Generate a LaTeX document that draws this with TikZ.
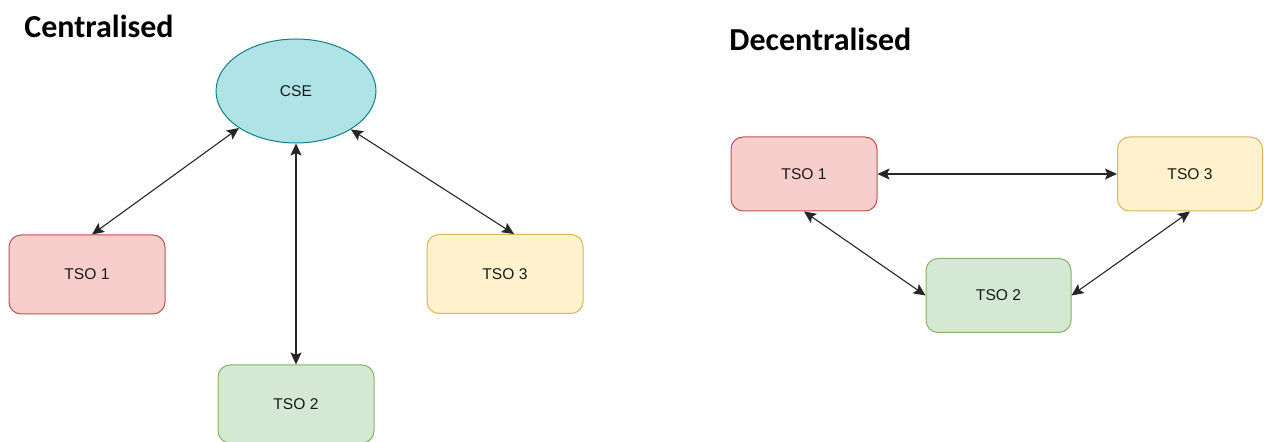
\documentclass[tikz,border=0pt]{standalone}
\usepackage{fontspec}
\setmainfont{Liberation Sans}
\newfontfamily\titlefont{Carlito}
\usetikzlibrary{shapes.geometric,arrows.meta,calc}
\definecolor{cseFill}{HTML}{B0E3E6}
\definecolor{cseLine}{HTML}{0E8088}
\definecolor{redFill}{HTML}{F8CECC}
\definecolor{redLine}{HTML}{B85450}
\definecolor{greenFill}{HTML}{D5E8D4}
\definecolor{greenLine}{HTML}{82B366}
\definecolor{yellowFill}{HTML}{FFF2CC}
\definecolor{yellowLine}{HTML}{D6B656}
\tikzset{
  box/.style={draw, rounded corners=6pt, line width=0.5pt, inner sep=0pt,
    font=\fontsize{7.8pt}{9pt}\selectfont, text=black!90},
  redbox/.style={box, fill=redFill, draw=redLine},
  greenbox/.style={box, fill=greenFill, draw=greenLine},
  yellowbox/.style={box, fill=yellowFill, draw=yellowLine},
  ttl/.style={anchor=base west, inner sep=0pt, font=\titlefont\bfseries\fontsize{16pt}{19pt}\selectfont},
  link/.style={line width=0.55pt, black!85, {Stealth[length=6pt,width=5.5pt,inset=1.2pt]}-{Stealth[length=6pt,width=5.5pt,inset=1.2pt]}}
}
\begin{document}
\begin{tikzpicture}[x=0.5pt,y=-0.5pt]
\useasboundingbox (0,0) rectangle (1264,442);
% titles
\node[ttl] (tc) at (24,38) {Centralised};
\node[ttl] (td) at (729,51) {Decentralised};
% centralised
\node[ellipse, draw=cseLine, fill=cseFill, line width=0.5pt, minimum width=80pt, minimum height=52pt, inner sep=0pt,
  font=\fontsize{7.8pt}{9pt}\selectfont, text=black!90] (cse) at (296,91) {CSE};
\node[redbox, minimum width=78pt, minimum height=39.5pt] (a1) at (87,274.5) {TSO 1};
\node[yellowbox, minimum width=78pt, minimum height=39.5pt] (a3) at (505,274) {TSO 3};
\node[greenbox, minimum width=78pt, minimum height=39pt] (a2) at (296,404) {TSO 2};
\draw[link] (cse.213) -- ($(a1.north)+(5,0)$);
\draw[link] (cse.south) -- (a2.north);
\draw[link] (cse.-35) -- ($(a3.north)+(9,0)$);
% decentralised
\node[redbox, minimum width=73pt, minimum height=37pt] (b1) at (804,174) {TSO 1};
\node[yellowbox, minimum width=72.5pt, minimum height=37pt] (b3) at (1190,174) {TSO 3};
\node[greenbox, minimum width=72.5pt, minimum height=37pt] (b2) at (998.5,295.5) {TSO 2};
\draw[link] (b1.east) -- (b3.west);
\draw[link] (b1.south) -- (b2.west);
\draw[link] (b3.south) -- (b2.east);
\end{tikzpicture}
\end{document}
